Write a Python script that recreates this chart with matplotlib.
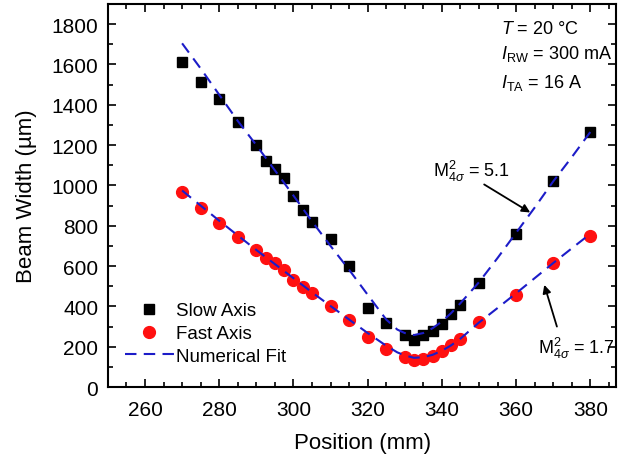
import matplotlib.pyplot as plt
from matplotlib.ticker import MultipleLocator

plt.rcParams['font.family'] = ['Liberation Sans', 'DejaVu Sans']
plt.rcParams['mathtext.fontset'] = 'custom'
plt.rcParams['mathtext.rm'] = 'Liberation Sans'
plt.rcParams['mathtext.it'] = 'Liberation Sans:italic'

# measured beam widths (um) vs position (mm)
pos = [270, 275, 280, 285, 290, 292.5, 295, 297.5, 300, 302.5, 305, 310, 315,
       320, 325, 330, 332.5, 335, 337.5, 340, 342.5, 345, 350, 360, 370, 380]
slow = [1614, 1512, 1431, 1317, 1201, 1123, 1083, 1035, 950, 876, 818, 735, 602,
        391, 317, 259, 232, 257, 280, 312, 360, 408, 516, 760, 1021, 1265]
fast = [969, 889, 814, 745, 678, 640, 615, 579, 532, 494, 467, 402, 333,
        250, 191, 151, 134, 138, 154, 177, 209, 240, 325, 458, 615, 748]

# fitted curves
fit_pos = [270, 275, 280, 285, 290, 295, 300, 305, 310, 315, 320, 325, 328, 330,
           332.5, 335, 337.5, 340, 342.5, 345, 350, 355, 360, 365, 370, 375, 380]
slow_fit = [1705, 1580, 1450, 1320, 1200, 1075, 950, 822, 700, 582, 458, 335, 285, 268,
            258, 268, 292, 325, 367, 416, 520, 640, 765, 890, 1020, 1140, 1265]
fast_fit = [975, 900, 825, 752, 680, 610, 540, 470, 402, 335, 268, 205, 172, 157,
            145, 148, 160, 180, 207, 240, 320, 392, 465, 540, 615, 688, 760]

fig = plt.figure(figsize=(6.2, 4.56), dpi=100)
ax = fig.add_axes([0.174, 0.149, 0.820, 0.840])

fit_color = '#1c1cc8'
ax.plot(pos, slow, 's', color='black', markersize=7.5, label='Slow Axis', zorder=2)
ax.plot(pos, fast, 'o', color='#ff1010', markersize=8.5, label='Fast Axis', zorder=2)
ax.plot(fit_pos, slow_fit, '--', color=fit_color, lw=1.5, dashes=(5.5, 3.5),
        label='Numerical Fit', zorder=3)
ax.plot(fit_pos, fast_fit, '--', color=fit_color, lw=1.5, dashes=(5.5, 3.5), zorder=3)

ax.set_xlim(250, 387)
ax.set_ylim(0, 1900)
ax.xaxis.set_major_locator(MultipleLocator(20))
ax.xaxis.set_minor_locator(MultipleLocator(5))
ax.yaxis.set_major_locator(MultipleLocator(200))
ax.yaxis.set_minor_locator(MultipleLocator(100))
ax.tick_params(which='both', direction='in', top=True, right=True, labelsize=15, width=1.2)
ax.tick_params(which='major', length=6)
ax.tick_params(which='minor', length=3.5)
ax.tick_params(axis='y', pad=7)
ax.tick_params(axis='x', pad=9)
for s in ax.spines.values():
    s.set_linewidth(1.5)

ax.set_xlabel('Position (mm)', fontsize=16, labelpad=10)
ax.set_ylabel('Beam Width (µm)', fontsize=16, labelpad=10)

ax.text(0.774, 0.935, '$T$ = 20 °C', transform=ax.transAxes, fontsize=13, va='center')
ax.text(0.774, 0.873, '$I_{\\mathrm{RW}}$ = 300 mA', transform=ax.transAxes, fontsize=13, va='center')
ax.text(0.774, 0.797, '$I_{\\mathrm{TA}}$ = 16 A', transform=ax.transAxes, fontsize=13, va='center')

ax.text(337.5, 1075, 'M$^2_{4\\sigma}$ = 5.1', fontsize=13, va='center')
ax.annotate('', xy=(363.8, 866), xytext=(351.4, 1005),
            arrowprops=dict(arrowstyle='-|>', color='black', lw=1.3,
                            shrinkA=0, shrinkB=0, mutation_scale=12))
ax.text(366, 195, 'M$^2_{4\\sigma}$ = 1.7', fontsize=13, va='center')
ax.annotate('', xy=(367.6, 507), xytext=(371, 300),
            arrowprops=dict(arrowstyle='-|>', color='black', lw=1.3,
                            shrinkA=0, shrinkB=0, mutation_scale=12))

ax.legend(loc='lower left', bbox_to_anchor=(0.0, 0.014), frameon=False, fontsize=13.5,
          handlelength=2.6, handletextpad=0.15, labelspacing=0.3)

fig.savefig('out.png', dpi=100)
